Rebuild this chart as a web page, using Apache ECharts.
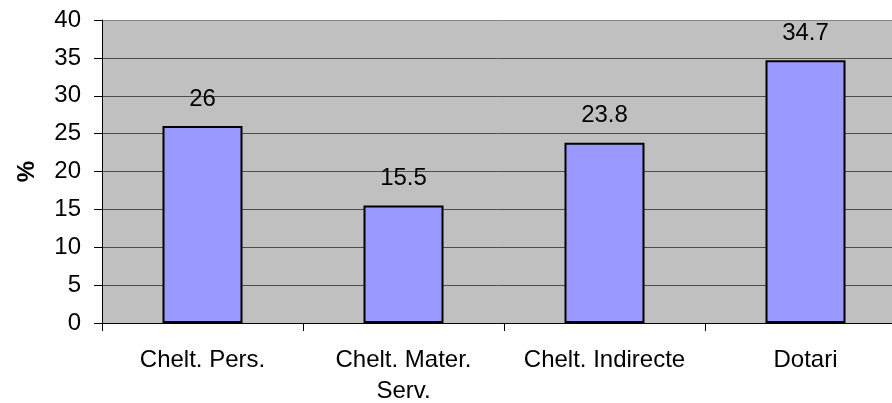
<!DOCTYPE html>
<html>
<head>
<meta charset="utf-8">
<script src="https://cdn.jsdelivr.net/npm/echarts@6/dist/echarts.min.js"></script>
<style>
html,body{margin:0;padding:0;background:#fff;}
#chart{width:892px;height:403px;}
</style>
</head>
<body>
<div id="chart"></div>
<script>
var categories = ["Chelt. Pers.", "Chelt. Mater.\nServ.", "Chelt. Indirecte", "Dotari"];
var values = [26, 15.5, 23.8, 34.7];
var yTicks = [0, 5, 10, 15, 20, 25, 30, 35, 40];
var yName = "%";

var FONT = "'Liberation Sans', Arial, sans-serif";
var splitColors = yTicks.map(function (t, i) { return i === yTicks.length - 1 ? '#858585' : '#4c4c4c'; });
var chart = echarts.init(document.getElementById('chart'), null, {renderer: 'canvas'});
chart.setOption({
  animation: false,
  backgroundColor: '#ffffff',
  grid: {
    left: 102, top: 20, right: -14, bottom: 80,
    containLabel: false,
    outerBoundsMode: 'none',
    show: true, backgroundColor: '#C0C0C0', borderWidth: 0
  },
  xAxis: {
    type: 'category',
    data: categories,
    axisLine: {lineStyle: {color: '#000', width: 1}},
    axisTick: {show: true, alignWithLabel: false, length: 8, lineStyle: {color: '#000'}},
    axisLabel: {color: '#000', fontSize: 24, fontFamily: FONT, margin: 22, lineHeight: 31, interval: 0},
    splitLine: {show: false}
  },
  yAxis: {
    type: 'value',
    min: yTicks[0], max: yTicks[yTicks.length - 1], interval: 5,
    name: yName,
    nameLocation: 'middle',
    nameGap: 63,
    nameTextStyle: {color: '#000', fontSize: 24, fontWeight: 'bold', fontFamily: FONT},
    axisLine: {show: true, lineStyle: {color: '#000', width: 1}},
    axisTick: {show: true, length: 8, lineStyle: {color: '#000'}},
    axisLabel: {color: '#000', fontSize: 24, fontFamily: FONT, margin: 21},
    splitLine: {show: true, lineStyle: {color: splitColors, width: 1}}
  },
  series: [{
    type: 'bar',
    data: values,
    barWidth: 80,
    itemStyle: {color: '#9999FF', borderColor: '#000', borderWidth: 2},
    label: {
      show: true, position: 'top', distance: 15,
      color: '#000', fontSize: 24, fontFamily: FONT
    }
  }]
});
</script>
</body>
</html>
